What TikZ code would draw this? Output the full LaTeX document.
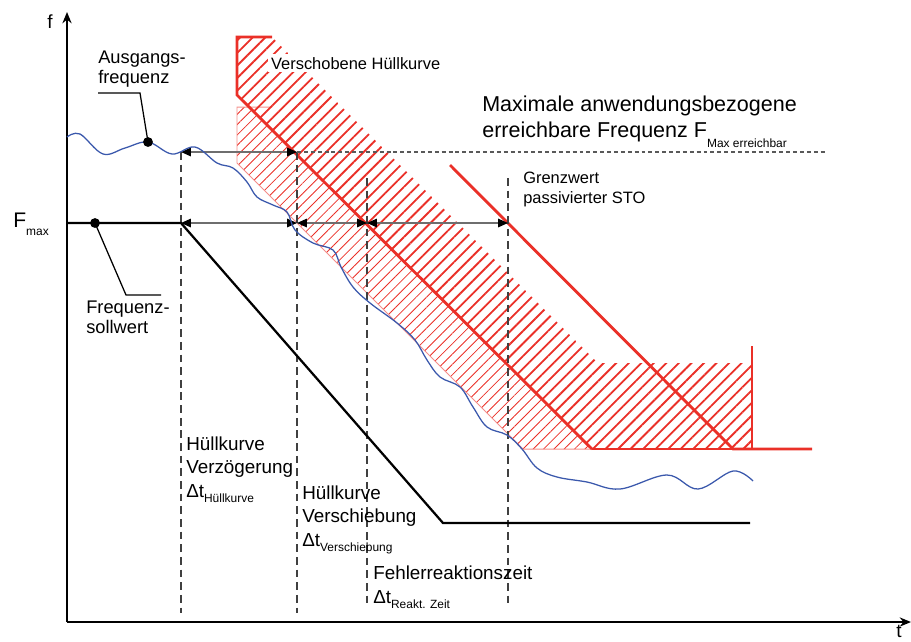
\documentclass[tikz,border=0pt]{standalone}
\usepackage{fontspec}
\setmainfont{Liberation Sans}
\usetikzlibrary{arrows.meta,patterns.meta}

\definecolor{hred}{RGB}{234,48,40}
\definecolor{fblue}{RGB}{58,88,172}
\definecolor{spangray}{RGB}{110,110,110}
\newcommand\lowsub[2][3.6pt]{\raisebox{-#1}{\fontsize{8.5}{8.5}\selectfont #2}}

\begin{document}
\begin{tikzpicture}[x=0.025cm, y=-0.025cm,
    axisline/.style={line width=1.4pt, -{Stealth[length=8pt,width=6.5pt]}},
    setline/.style={line width=1.6pt},
    guide/.style={dash pattern=on 5.5pt off 3.5pt, line width=0.8pt, black!75},
    limitline/.style={dash pattern=on 2.8pt off 2.1pt, line width=0.8pt, black!65},
    span/.style={line width=1pt, spangray,
      {Triangle[length=7pt,width=6pt,color=black]}-{Triangle[length=7pt,width=6pt,color=black]}},
    shifted/.style={line width=2pt, hred},
    hatchdark/.style={pattern={Lines[angle=45,distance=6.3pt,line width=1.3pt]}, pattern color=hred},
    hatchlight/.style={pattern={Lines[angle=45,distance=5.2pt,line width=0.6pt]}, pattern color=hred},
    lbl/.style={anchor=base west, align=left, inner sep=0pt, font=\fontsize{13.4}{16.4}\selectfont},
    note/.style={lbl, font=\fontsize{11.7}{14.2}\selectfont},
    leader/.style={line width=0.9pt},
    dot/.style={circle, fill=black, inner sep=0pt, minimum size=7pt}
  ]
  \useasboundingbox (0,0) rectangle (911,641);

  % Original envelope
  \fill[hatchlight] (237,107) -- (249,107) -- (592,449) -- (523,449) -- (237,163) -- cycle;
  \draw[hred!55, line width=0.7pt] (272,107) -- (237,107) -- (237,163) -- (523,449) -- (592,449);

  % Shifted envelope
  \fill[hatchdark] (237,37) -- (272,37) -- (598,363) -- (752,363) -- (752,449) -- (592,449) -- (237,95) -- cycle;
  \draw[shifted] (272,37) -- (237,37) -- (237,95) -- (592,449);
  \draw[hred, line width=0.8pt] (592,449) -- (752,449);
  \draw[hred, line width=1.4pt] (752,346) -- (752,449);
  \node[note, fill=white, inner sep=2pt] (shiftlbl) at (268,69) {Verschobene Hüllkurve};

  % Limit of passivated STO
  \draw[shifted] (450,165) -- (733,449) -- (812,449);

  % Axes
  \coordinate (origin) at (67,622);
  \coordinate (ytip) at (67,12);
  \coordinate (xtip) at (911,622);
  \draw[axisline] (origin) -- (ytip);
  \draw[axisline] (origin) -- (xtip);
  \node[lbl, font=\fontsize{13.5}{13.5}\selectfont] (flbl) at (47,28) {f};
  \node[lbl, font=\fontsize{13.5}{13.5}\selectfont] (tlbl) at (896,637) {t};
  \node[lbl, font=\fontsize{15}{15}\selectfont] (fmaxlbl) at (13,227) {F\lowsub[5.7pt]{max}};

  % Time marks
  \coordinate (a1) at (181,152);
  \coordinate (b1) at (297,152);
  \coordinate (a2) at (181,223);
  \coordinate (b2) at (297,223);
  \coordinate (c2) at (367,223);
  \coordinate (d2) at (508,223);
  \coordinate (c3) at (367,178);
  \coordinate (d3) at (508,178);
  \coordinate (a0) at (181,613);
  \coordinate (b0) at (297,613);
  \coordinate (c0) at (367,607);
  \coordinate (d0) at (508,608);
  \coordinate (fmaxend) at (827,152);
  \draw[guide] (a1) -- (a0);
  \draw[guide] (b1) -- (b0);
  \draw[guide] (c3) -- (c0);
  \draw[guide] (d3) -- (d0);
  \draw[limitline] (b1) -- (fmaxend);
  \draw[span] (a1) -- (b1);
  \draw[span] (a2) -- (b2);
  \draw[span] (b2) -- (c2);
  \draw[span] (c2) -- (d2);

  % Output frequency
  \draw[fblue, line width=0.9pt] plot[smooth, tension=0.6] coordinates {
    (67,137) (80,134) (103,154) (125,148) (148,142) (172,154) (195,147)
    (217,163) (233,168) (247,182) (257,197) (273,205) (287,212) (295,230)
    (313,243) (333,250) (341,267) (353,287) (370,303) (397,323) (415,340)
    (427,360) (440,377) (460,387) (473,407) (487,427) (507,435) (522,449)
    (537,468) (557,477) (587,482) (620,489) (667,475) (698,489) (733,471)
    (753,481)};

  % Set point
  \coordinate (fmaxstart) at (67,223);
  \coordinate (rampend) at (443,523);
  \coordinate (setend) at (750,523);
  \draw[setline] (fmaxstart) -- (a2) -- (rampend) -- (setend);

  % Labels with leaders
  \node[dot] (outdot) at (148,142) {};
  \node[dot] (setdot) at (95,223) {};
  \node[lbl, font=\fontsize{13}{14.2}\selectfont] (outlbl) at (98,83) {Ausgangs-\\frequenz};
  \node[lbl, font=\fontsize{13}{14.2}\selectfont] (setlbl) at (86,333) {Frequenz-\\sollwert};
  \coordinate (outknee) at (140,93);
  \coordinate (outend) at (98,93);
  \coordinate (setknee) at (126,295);
  \coordinate (setlend) at (161,295);
  \draw[leader] (outdot.center) -- (outknee) -- (outend);
  \draw[leader] (setdot.center) -- (setknee) -- (setlend);

  \node[lbl, font=\fontsize{15.3}{17.8}\selectfont] (maxlbl) at (482,137)
    {Maximale anwendungsbezogene\\erreichbare Frequenz F\lowsub[7.8pt]{Max erreichbar}};
  \node[note] (stolbl) at (523,203) {Grenzwert\\passivierter STO};
  \node[lbl] (delaylbl) at (186,497) {Hüllkurve\\Verzögerung\\Δt\lowsub{Hüllkurve}};
  \node[lbl] (movelbl) at (302,546) {Hüllkurve\\Verschiebung\\Δt\lowsub{Verschiebung}};
  \node[lbl] (reactlbl) at (373,603) {Fehlerreaktionszeit\\Δt\lowsub{Reakt. Zeit}};
\end{tikzpicture}
\end{document}
